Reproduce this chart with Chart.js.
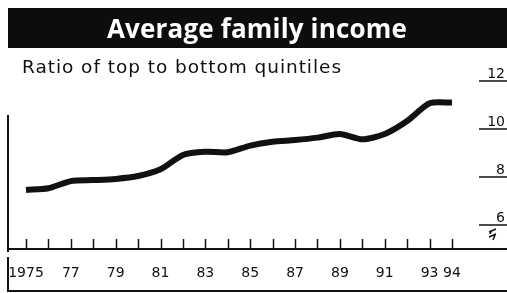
<!DOCTYPE html>
<html>
<head>
<meta charset="utf-8">
<script src="https://cdn.jsdelivr.net/npm/chart.js@4/dist/chart.umd.min.js"></script>
<style>
  html, body { margin: 0; padding: 0; background: #fff; }
  #wrap { position: relative; width: 507px; height: 293px; overflow: hidden; background: #fff; }
  #bar { position: absolute; left: 8px; top: 8px; width: 499px; height: 40px; background: #0d0d0d; }
  #title { position: absolute; left: 107px; top: 8px; height: 40px; line-height: 40px; white-space: nowrap;
           color: #fff; font-family: "Open Sans", sans-serif; font-weight: 700; font-size: 26px; }
  #sub { position: absolute; left: 22px; top: 56px; color: #111; white-space: nowrap;
         font-family: "DejaVu Sans", sans-serif; font-size: 18.5px; line-height: 22px; }
  canvas { position: absolute; left: 0; top: 0; }
</style>
</head>
<body>
<div id="wrap">
  <canvas id="c" width="507" height="293"></canvas>
  <div id="bar"></div>
  <div id="title">Average family income</div>
  <div id="sub">Ratio of top to bottom quintiles</div>
</div>
<script>
const years = [1975,1976,1977,1978,1979,1980,1981,1982,1983,1984,1985,1986,1987,1988,1989,1990,1991,1992,1993,1994];
const ratio = [7.46,7.53,7.83,7.87,7.92,8.04,8.32,8.92,9.05,9.03,9.31,9.47,9.54,9.64,9.79,9.57,9.79,10.33,11.07,11.1];
const xLabelYears = [1975,1977,1979,1981,1983,1985,1987,1989,1991,1993,1994];
const yTickValues = [6,8,10,12];

const INK = '#111';

function fitWidth(id, target) {
  const el = document.getElementById(id);
  const n = el.textContent.length;
  const w = el.getBoundingClientRect().width;
  el.style.letterSpacing = ((target - w) / n) + 'px';
}
fitWidth('title', 300);
fitWidth('sub', 320);

const decor = {
  id: 'decor',
  afterDraw(chart) {
    const ctx = chart.ctx;
    const xs = chart.scales.x, ys = chart.scales.y;
    const ca = chart.chartArea;
    ctx.save();
    ctx.strokeStyle = INK;
    ctx.fillStyle = INK;
    ctx.lineWidth = 1.5;
    years.forEach(y => {
      const px = Math.round(xs.getPixelForValue(y)) + 0.5;
      ctx.beginPath();
      ctx.moveTo(px, ca.bottom);
      ctx.lineTo(px, ca.bottom - 10);
      ctx.stroke();
    });
    ctx.font = '14px "DejaVu Sans", sans-serif';
    ctx.textAlign = 'right';
    ctx.textBaseline = 'alphabetic';
    yTickValues.forEach(v => {
      const py = ys.getPixelForValue(v);
      ctx.lineWidth = 1.5;
      ctx.beginPath();
      ctx.moveTo(479, py);
      ctx.lineTo(507, py);
      ctx.stroke();
      ctx.fillText(String(v), 505, py - 3);
    });
    const by = ys.getPixelForValue(6) + 4;
    ctx.lineWidth = 1.5;
    ctx.beginPath();
    ctx.moveTo(489, by + 3); ctx.lineTo(496, by);
    ctx.moveTo(489, by + 8); ctx.lineTo(496, by + 5);
    ctx.moveTo(492, by + 1); ctx.lineTo(490, by + 5);
    ctx.moveTo(495, by + 6); ctx.lineTo(493, by + 11);
    ctx.stroke();
    ctx.lineWidth = 2;
    ctx.beginPath();
    ctx.moveTo(8, 115); ctx.lineTo(8, 252);
    ctx.moveTo(8, 257); ctx.lineTo(8, 291);
    ctx.lineTo(507, 291);
    ctx.stroke();
    ctx.restore();
  }
};

new Chart(document.getElementById('c'), {
  type: 'line',
  data: {
    datasets: [{
      data: years.map((y, i) => ({ x: y, y: ratio[i] })),
      borderColor: INK,
      borderWidth: 6,
      borderCapStyle: 'butt',
      borderJoinStyle: 'round',
      pointRadius: 0,
      tension: 0.25,
      fill: false
    }]
  },
  options: {
    responsive: false,
    animation: false,
    events: [],
    layout: { padding: { top: 69, left: 8, right: 0, bottom: 0 } },
    plugins: { legend: { display: false }, tooltip: { enabled: false } },
    scales: {
      x: {
        type: 'linear',
        min: 1974.197,
        max: 1996.453,
        afterBuildTicks: s => { s.ticks = years.map(v => ({ value: v })); },
        afterFit: s => { s.height = 44; s.paddingLeft = 0; s.paddingRight = 0; },
        grid: { display: false },
        border: { display: true, color: INK, width: 2 },
        ticks: {
          autoSkip: false,
          maxRotation: 0,
          padding: 8,
          color: INK,
          font: { family: '"DejaVu Sans", sans-serif', size: 14 },
          callback: v => xLabelYears.includes(v) ? (v === 1975 ? '1975' : String(v).slice(2)) : ''
        }
      },
      y: {
        display: false,
        min: 5,
        max: 12.5
      }
    }
  },
  plugins: [decor]
});
</script>
</body>
</html>
